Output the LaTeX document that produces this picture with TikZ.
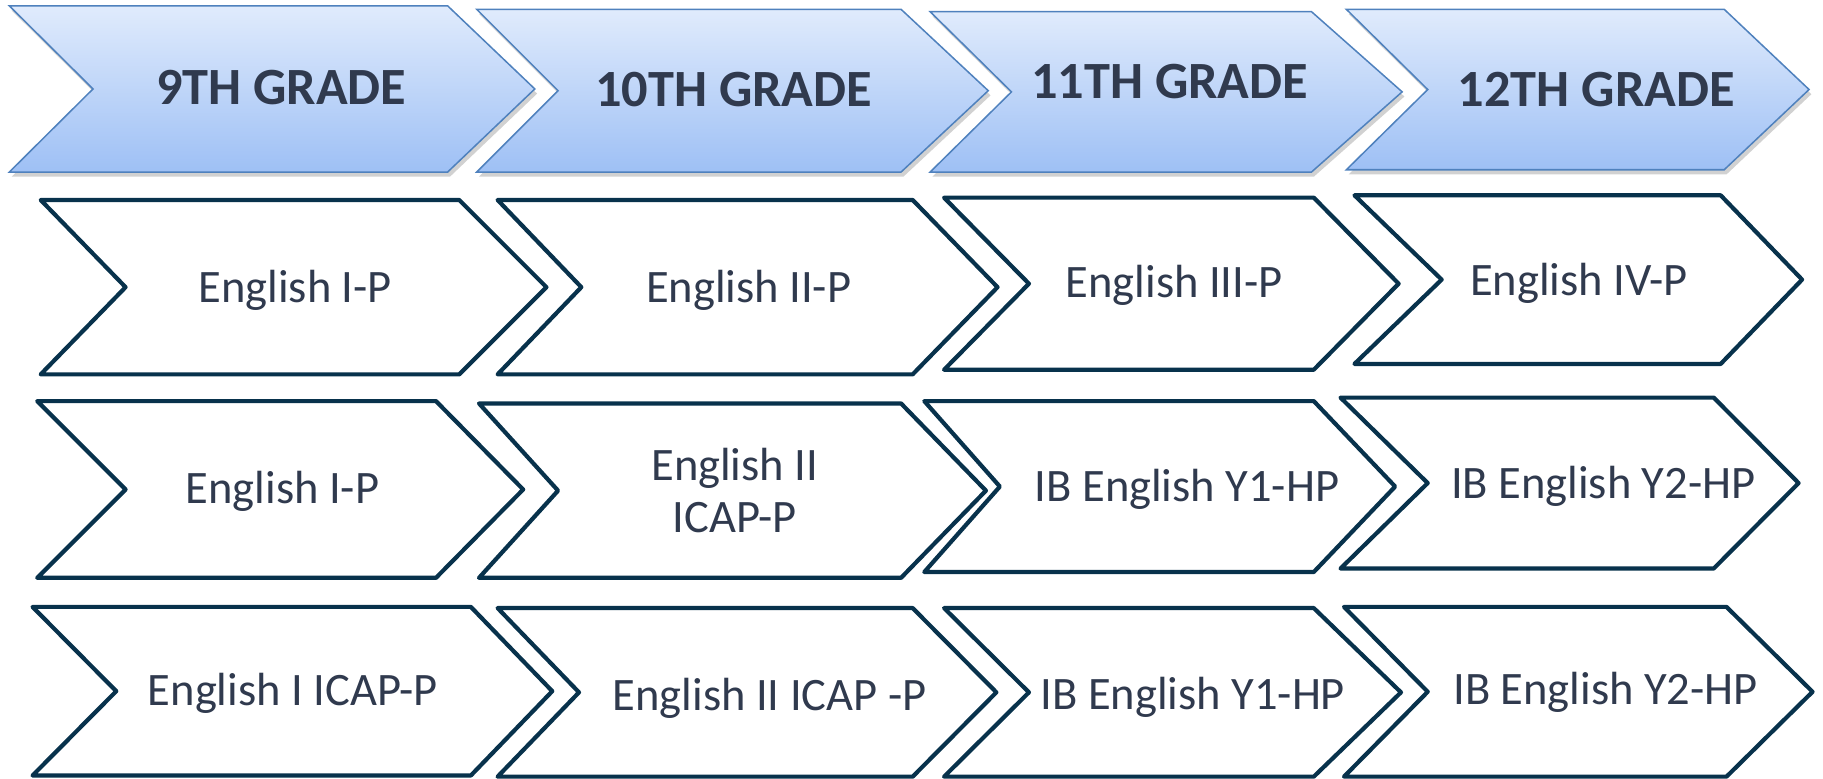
\documentclass[tikz,border=0pt]{standalone}
\usepackage{fontspec}
\setmainfont{Carlito}
\definecolor{navy}{RGB}{8,50,76}
\definecolor{txt}{RGB}{48,58,78}
\definecolor{hdrline}{RGB}{79,129,189}
\definecolor{hdrtop}{RGB}{224,235,252}
\definecolor{hdrbot}{RGB}{158,192,245}
\newcommand{\mychev}[7]{% style, x0, xnotch, xcorner, xtip, ytop, ybot
  \draw[#1] (#2,#6) -- (#4,#6) -- (#5,{(#6+#7)/2}) -- (#4,#7) -- (#2,#7) -- (#3,{(#6+#7)/2}) -- cycle;}
\tikzset{
  hdr/.style={draw=hdrline, line width=1.3pt, top color=hdrtop, bottom color=hdrbot, line join=miter},
  hdrshadow/.style={fill=black, opacity=0.18, draw=none, xshift=2pt, yshift=-4pt},
  crs/.style={draw=navy, line width=3.6pt, fill=white, line join=round},
  hdrtxt/.style={font=\fontsize{45}{50}\selectfont\bfseries, text=txt, anchor=base, inner sep=0pt},
  crstxt/.style={font=\fontsize{40}{46}\selectfont, text=txt, anchor=base, inner sep=0pt}
}
\begin{document}
\begin{tikzpicture}[x=1pt,y=-1pt]
\useasboundingbox (0,0) rectangle (1568,670);
% header shadows
\mychev{hdrshadow}{8}{80}{385}{460}{5}{148}
\mychev{hdrshadow}{410}{480}{775}{850}{8}{148}
\mychev{hdrshadow}{800}{870}{1128}{1206}{10}{148}
\mychev{hdrshadow}{1158}{1228}{1483}{1556}{8}{146}
% headers
\mychev{hdr}{8}{80}{385}{460}{5}{148}
\mychev{hdr}{410}{480}{775}{850}{8}{148}
\mychev{hdr}{800}{870}{1128}{1206}{10}{148}
\mychev{hdr}{1158}{1228}{1483}{1556}{8}{146}
\node[hdrtxt] (h1) at (242,90) {9TH GRADE};
\node[hdrtxt] (h2) at (631,92) {10TH GRADE};
\node[hdrtxt] (h3) at (1006,85) {11TH GRADE};
\node[hdrtxt] (h4) at (1373,92) {12TH GRADE};
% row 1
\mychev{crs}{35}{108}{395}{470}{172}{322}
\mychev{crs}{428}{500}{785}{858}{172}{322}
\mychev{crs}{812}{885}{1130}{1203}{170}{318}
\mychev{crs}{1165}{1240}{1480}{1550}{168}{313}
\node[crstxt] (r1c1) at (254,260) {English I-P};
\node[crstxt] (r1c2) at (644,260) {English II-P};
\node[crstxt] (r1c3) at (1010,256) {English III-P};
\node[crstxt] (r1c4) at (1358,254) {English IV-P};
% row 2
\mychev{crs}{32}{108}{375}{450}{345}{497}
\mychev{crs}{412}{480}{775}{848}{347}{497}
\mychev{crs}{795}{860}{1130}{1200}{345}{492}
\mychev{crs}{1153}{1228}{1474}{1547}{342}{489}
\node[crstxt] (r2c1) at (243,433) {English I-P};
\node[crstxt] (r2c2a) at (632,413) {English II};
\node[crstxt] (r2c2b) at (632,458) {ICAP-P};
\node[crstxt] (r2c3) at (1021,431) {IB English Y1-HP};
\node[crstxt] (r2c4) at (1379,429) {IB English Y2-HP};
% row 3
\mychev{crs}{28}{100}{405}{475}{522}{667}
\mychev{crs}{428}{498}{785}{857}{523}{668}
\mychev{crs}{812}{885}{1130}{1205}{523}{668}
\mychev{crs}{1156}{1228}{1485}{1559}{522}{668}
\node[crstxt] (r3c1) at (252,607) {English I ICAP-P};
\node[crstxt] (r3c2) at (662,611) {English II ICAP -P};
\node[crstxt] (r3c3) at (1026,610) {IB English Y1-HP};
\node[crstxt] (r3c4) at (1381,606) {IB English Y2-HP};
\end{tikzpicture}
\end{document}
